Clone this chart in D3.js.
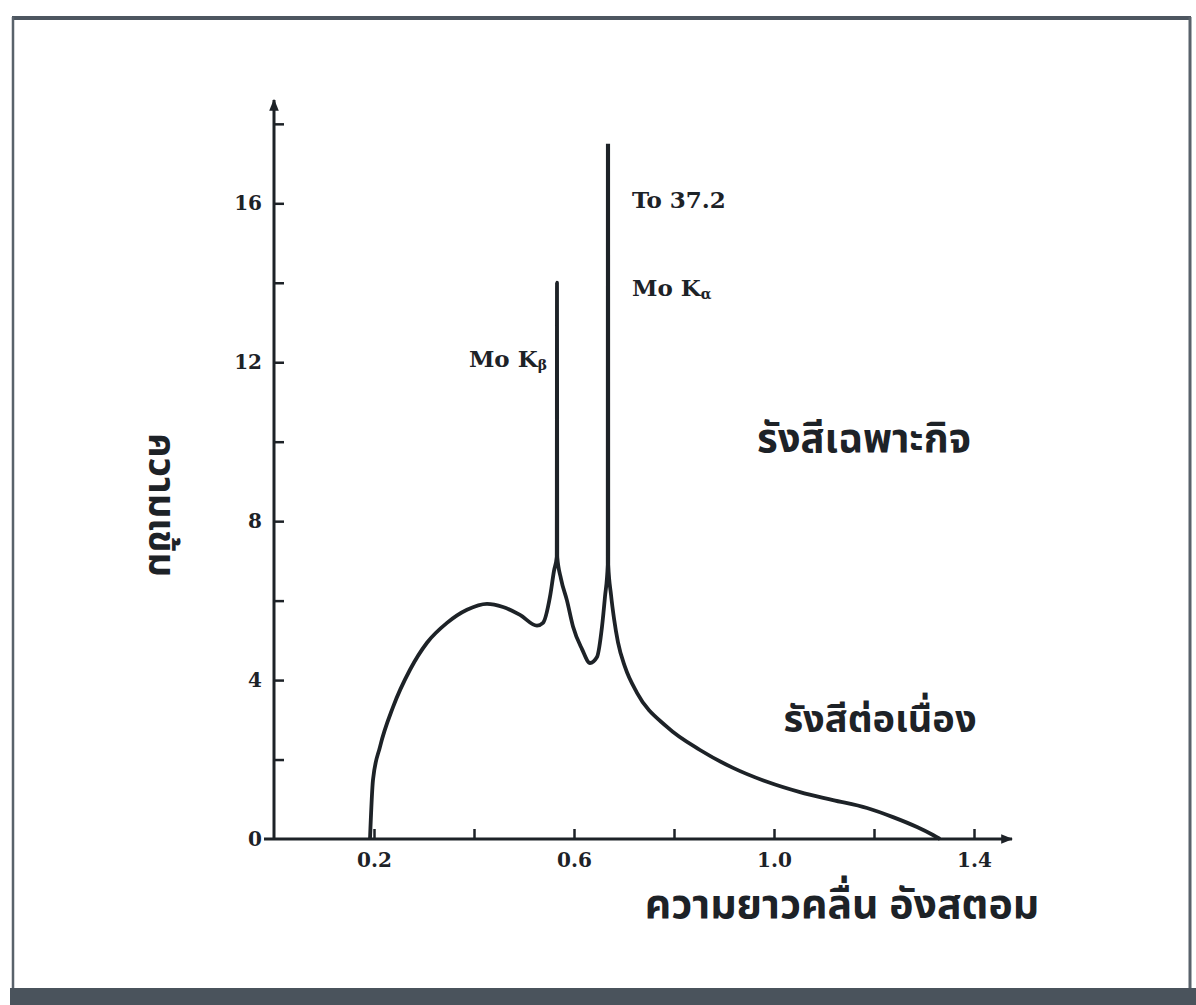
<!DOCTYPE html>
<html>
<head>
<meta charset="utf-8">
<script src="https://cdn.jsdelivr.net/npm/d3@7"></script>
<style>
  html, body { margin: 0; padding: 0; background: #ffffff; }
  svg { display: block; }
</style>
</head>
<body>
<script>
// ---- data ----
const wavelength = [0.192, 0.198, 0.212, 0.238, 0.272, 0.306, 0.346, 0.386, 0.426, 0.458,
  0.492, 0.526, 0.538, 0.552, 0.560, 0.5655, 0.566, 0.5665, 0.574, 0.586,
  0.598, 0.616, 0.632, 0.646, 0.656, 0.662, 0.6675, 0.668, 0.6685, 0.674,
  0.680, 0.688, 0.702, 0.726, 0.786, 0.852, 0.918, 0.986, 1.052, 1.118,
  1.186, 1.238, 1.286, 1.318, 1.332];
const intensity = [0, 1.49, 2.32, 3.32, 4.26, 4.94, 5.44, 5.77, 5.92, 5.84,
  5.64, 5.37, 5.44, 6.10, 6.75, 7.1, 14.0, 7.1, 6.55, 6.0,
  5.35, 4.78, 4.43, 4.58, 5.34, 6.10, 6.9, 37.2, 6.9, 6.15,
  5.55, 4.95, 4.33, 3.68, 2.82, 2.24, 1.79, 1.44, 1.18, 0.98,
  0.78, 0.55, 0.30, 0.10, 0];
const yTicks = [0, 2, 4, 6, 8, 10, 12, 14, 16, 18];
const yTickLabels = [0, 4, 8, 12, 16];
const xTicks = [0.2, 0.4, 0.6, 0.8, 1.0, 1.2, 1.4];
const xTickLabels = [0.2, 0.6, 1.0, 1.4];
const peakCutoff = 17.5;            // K-alpha line is drawn only up to here ("To 37.2")
const xTitle = "ความยาวคลื่น อังสตอม";
const yTitle = "ความเข้ม";
const labelCharacteristic = "รังสีเฉพาะกิจ";
const labelContinuous = "รังสีต่อเนื่อง";
const labelPeakValue = "To 37.2";

// ---- drawing ----
const W = 1196, H = 1005;
const ink = "#1d2227";
const serif = "'DejaVu Serif', 'Liberation Serif', serif";
const thai = "'Noto Sans Thai', 'Noto Serif Thai', 'Loma', 'Garuda', 'Norasi', 'Kinnari', 'Tlwg Typo', sans-serif";

const svg = d3.select("body").append("svg").attr("width", W).attr("height", H);
svg.append("rect").attr("width", W).attr("height", H).attr("fill", "#ffffff");

// frame
svg.append("line").attr("x1", 12).attr("x2", 1191).attr("y1", 18).attr("y2", 18)
  .attr("stroke", "#4d5660").attr("stroke-width", 4);
svg.append("line").attr("x1", 13).attr("x2", 13).attr("y1", 17).attr("y2", 990)
  .attr("stroke", "#59626b").attr("stroke-width", 2.5);
svg.append("line").attr("x1", 1190).attr("x2", 1190).attr("y1", 17).attr("y2", 990)
  .attr("stroke", "#59626b").attr("stroke-width", 3);
svg.append("rect").attr("x", 10).attr("y", 988).attr("width", 1186).attr("height", 17)
  .attr("fill", "#4a535c");

const x = d3.scaleLinear().domain([0, 1.476]).range([274, 1012]);
const y = d3.scaleLinear().domain([0, 18.6]).range([839, 100]);

// arrow marker
const defs = svg.append("defs");
defs.append("marker").attr("id", "arrow").attr("viewBox", "0 0 10 10")
  .attr("refX", 9).attr("refY", 5).attr("markerWidth", 4).attr("markerHeight", 4)
  .attr("orient", "auto")
  .append("path").attr("d", "M0,1 L10,5 L0,9 z").attr("fill", ink);

defs.append("clipPath").attr("id", "plotclip")
  .append("rect").attr("x", 0).attr("y", y(peakCutoff))
  .attr("width", W).attr("height", H);

// axis lines
svg.append("line").attr("x1", x(0)).attr("x2", x(0)).attr("y1", y(0)).attr("y2", y(18.6))
  .attr("stroke", ink).attr("stroke-width", 3).attr("marker-end", "url(#arrow)");
svg.append("line").attr("x1", x(0) - 10).attr("x2", x(1.476)).attr("y1", y(0)).attr("y2", y(0))
  .attr("stroke", ink).attr("stroke-width", 3).attr("marker-end", "url(#arrow)");

// y ticks (inside) and labels
const yTickG = svg.append("g").attr("transform", `translate(${x(0)},0)`)
  .call(d3.axisRight(y).tickValues(yTicks.filter(d => d > 0)).tickSize(10).tickFormat(""));
yTickG.select(".domain").remove();
yTickG.selectAll("line").attr("stroke", ink).attr("stroke-width", 2.5);

const yLabG = svg.append("g").attr("transform", `translate(${x(0)},0)`)
  .call(d3.axisLeft(y).tickValues(yTickLabels).tickSize(0).tickPadding(12).tickFormat(d3.format("d")));
yLabG.select(".domain").remove();
yLabG.selectAll("text").attr("font-family", serif).attr("font-weight", "bold")
  .attr("font-size", 20).attr("fill", ink);

// x ticks (upward) and labels
const xTickG = svg.append("g").attr("transform", `translate(0,${y(0)})`)
  .call(d3.axisTop(x).tickValues(xTicks).tickSize(10).tickFormat(""));
xTickG.select(".domain").remove();
xTickG.selectAll("line").attr("stroke", ink).attr("stroke-width", 2.5);

const xLabG = svg.append("g").attr("transform", `translate(0,${y(0)})`)
  .call(d3.axisBottom(x).tickValues(xTickLabels).tickSize(0).tickPadding(14).tickFormat(d3.format(".1f")));
xLabG.select(".domain").remove();
xLabG.selectAll("text").attr("font-family", serif).attr("font-weight", "bold")
  .attr("font-size", 20).attr("fill", ink);

// spectrum curve
const pts = wavelength.map((w, i) => [w, intensity[i]]);
const line = d3.line().x(d => x(d[0])).y(d => y(d[1])).curve(d3.curveMonotoneX);
svg.append("path").datum(pts).attr("d", line)
  .attr("clip-path", "url(#plotclip)")
  .attr("fill", "none").attr("stroke", ink).attr("stroke-width", 3.8)
  .attr("stroke-linejoin", "round");

// annotations
const kaX = wavelength[intensity.indexOf(37.2)];
const kbX = wavelength[intensity.indexOf(14.0)];

svg.append("text").attr("x", x(kaX) + 24).attr("y", y(16.1))
  .attr("font-family", serif).attr("font-weight", "bold").attr("font-size", 23)
  .attr("fill", ink).attr("dominant-baseline", "central").text(labelPeakValue);

const ka = svg.append("text").attr("x", x(kaX) + 24).attr("y", y(13.9))
  .attr("font-family", serif).attr("font-weight", "bold").attr("font-size", 23)
  .attr("fill", ink).attr("dominant-baseline", "central");
ka.append("tspan").text("Mo K");
ka.append("tspan").attr("font-size", 14).attr("dy", 7).text("α");

const kb = svg.append("text").attr("x", x(kbX) - 10).attr("y", y(12.1))
  .attr("font-family", serif).attr("font-weight", "bold").attr("font-size", 23)
  .attr("fill", ink).attr("dominant-baseline", "central").attr("text-anchor", "end");
kb.append("tspan").text("Mo K");
kb.append("tspan").attr("font-size", 14).attr("dy", 7).text("β");

svg.append("text").attr("x", 864).attr("y", 440)
  .attr("font-family", thai).attr("font-weight", "bold").attr("font-size", 40)
  .attr("fill", ink).attr("text-anchor", "middle").attr("dominant-baseline", "central")
  .text(labelCharacteristic);

svg.append("text").attr("x", 880).attr("y", 720)
  .attr("font-family", thai).attr("font-weight", "bold").attr("font-size", 38)
  .attr("fill", ink).attr("text-anchor", "middle").attr("dominant-baseline", "central")
  .text(labelContinuous);

svg.append("text").attr("x", 842).attr("y", 905)
  .attr("font-family", thai).attr("font-weight", "bold").attr("font-size", 41)
  .attr("fill", ink).attr("text-anchor", "middle").attr("dominant-baseline", "central")
  .text(xTitle);

svg.append("text").attr("transform", "translate(160,505) rotate(90)")
  .attr("font-family", thai).attr("font-weight", "bold").attr("font-size", 38)
  .attr("fill", ink).attr("text-anchor", "middle").attr("dominant-baseline", "central")
  .text(yTitle);
</script>
</body>
</html>
